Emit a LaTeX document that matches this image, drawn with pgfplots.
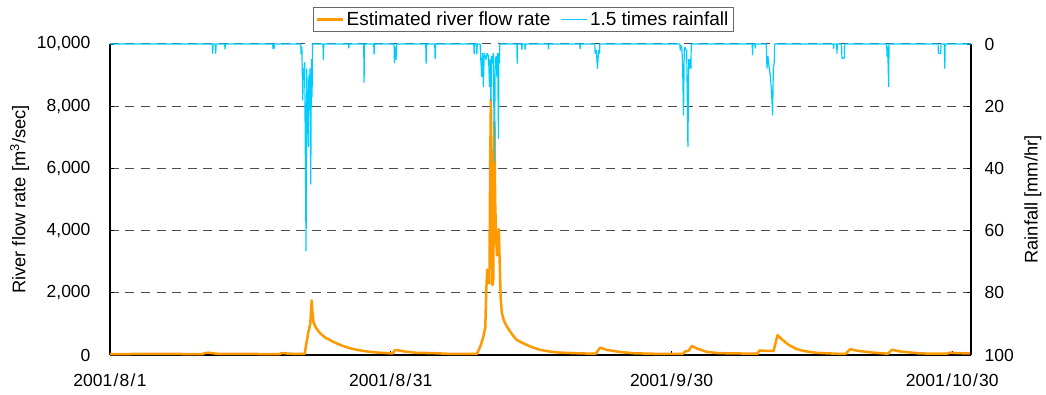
\documentclass[border=0pt]{standalone}
\usepackage{pgfplots}
\pgfplotsset{compat=1.18}
\usepackage{fontspec}
\setmainfont{Liberation Sans}
\definecolor{flow}{RGB}{255,153,0}
\definecolor{rain}{RGB}{0,204,255}
\newcommand\ds{\kern1.3pt/\kern1.3pt}
\newcommand\fs{\fontsize{17.5}{20}\selectfont}
\newcommand\ls{\fontsize{19}{22}\selectfont}
\newcommand\als{\fontsize{18.3}{21}\selectfont}

\pgfplotstableread{
x y
0 30
5 35
9.9 30
10.1 60
10.5 75
11.0 55
11.5 40
13 35
18.1 30
18.4 65
18.8 50
19.4 40
20.5 35
20.8 40
21.0 400
21.2 750
21.4 1000
21.55 1750
21.65 1300
21.75 1050
22.0 880
22.45 700
23.0 560
23.87 420
24.8 300
25.65 215
26.5 160
27.44 115
28.5 80
29.93 55
30.2 50
30.45 160
30.85 150
31.5 110
32.78 70
34.5 60
36 40
39.2 35
39.6 300
39.9 600
40.1 900
40.2 2000
40.3 2750
40.4 2400
40.54 2300
40.62 6000
40.7 8230
40.8 5000
40.87 2250
40.95 2400
41.08 7500
41.15 5000
41.23 4050
41.35 3200
41.45 3500
41.55 4050
41.62 3200
41.75 1800
41.87 1350
42.1 1100
42.41 910
43.0 650
43.47 480
44.18 375
45.0 260
45.96 165
47.0 110
47.92 80
50.0 55
51.9 40
52.38 240
53.0 170
54.52 95
56 55
58.08 40
61.2 40
61.5 120
61.8 130
62.18 290
62.7 210
63.78 100
65 60
69.2 40
69.35 140
70.9 130
71.33 640
71.8 500
72.5 330
73.3 200
74.11 130
75.5 70
77.68 40
78.6 40
79.1 190
79.8 140
81.24 85
83.1 40
83.56 170
84.5 110
86.59 50
89.4 40
89.8 75
90.5 60
92 50
}\flowdata

\pgfplotstableread{
x y
0 0
10.94 0
10.98 3
11.02 0
11.26 0
11.30 3
11.34 0
12.25 0
12.29 1.6
12.33 0
17.38 0
17.42 1.5
17.47 0.3
17.53 1.5
17.57 0
20.38 0
20.42 3.2
20.50 1
20.60 18
20.66 8
20.74 9
20.80 6
20.95 66.5
21.02 8
21.10 20
21.20 33
21.25 10
21.30 17
21.38 8
21.45 45
21.52 5
21.59 17
21.64 0
22.76 0
22.80 5
22.84 0
25.48 0
25.52 1.3
25.56 0
27.11 0
27.15 12.3
27.19 0
28.18 0
28.22 3.3
28.26 0
30.35 0
30.39 6
30.46 1
30.57 5
30.61 0
33.74 0
33.78 6.2
33.82 0
34.70 0
34.74 4.8
34.78 0
38.87 0
38.91 3.2
38.95 0
39.16 0
39.20 3.2
39.24 0
39.55 0
39.60 4
39.73 10.5
39.80 3
39.90 13.7
39.98 3
40.10 4
40.19 5
40.30 3
40.45 4
40.55 13.7
40.62 5
40.70 18.3
40.78 4
40.87 6
40.95 3
41.08 37.8
41.16 5
41.26 4
41.34 10.5
41.42 3
41.51 30.3
41.56 3
41.61 6
41.65 0
43.47 0
43.51 6.2
43.55 0
43.97 0
44.01 1.7
44.05 0
44.32 0
44.36 1.7
44.40 0
46.81 0
46.85 1.5
46.89 0
50.20 0
50.24 1.5
50.28 0
51.80 0
51.84 3
51.96 2
52.09 7.8
52.20 2
52.30 3
52.34 0
60.89 0
60.93 2
60.97 0.5
61.10 1
61.18 6.2
61.28 22.8
61.36 2
61.45 1
61.54 2
61.62 2
61.75 33
61.84 5
61.92 7.8
62.00 5
62.07 7.8
62.11 0
68.62 0
68.66 3.5
68.70 0
68.91 0
68.95 1.3
68.99 0
70.12 0
70.20 7.8
70.30 4
70.44 7.8
70.55 10
70.68 15
70.80 22.8
70.88 8
70.98 5.7
71.02 0
77.28 0
77.32 1.4
77.36 0
77.64 0
77.68 3
77.72 0
78.17 0
78.21 4.6
78.33 4.6
78.46 4.6
78.50 0
82.99 0
83.03 4
83.10 1
83.20 13.7
83.24 0
88.48 0
88.52 3
88.62 3
88.76 3
88.80 0
89.15 0
89.20 7.8
89.24 0
92 0
}\raindata

\begin{document}
\begin{tikzpicture}
\begin{axis}[
  scale only axis, width=861pt, height=311pt,
  xmin=0, xmax=92, ymin=0, ymax=10000,
  axis x line*=bottom, axis y line*=left,
  axis line style={-, line width=1.3pt, black},
  xtick={0,30,60,90},
  xticklabels={2001\ds 8\ds 1, 2001\ds 8\ds 31, 2001\ds 9\ds 30, 2001\ds 10\ds 30},
  ytick={0,2000,...,10000},
  scaled y ticks=false,
  /pgf/number format/.cd, 1000 sep={,}, assume math mode=true, /pgfplots/.cd,
  ymajorgrids,
  grid style={dash pattern=on 9pt off 6.5pt, line width=1pt, black!70},
  tick style={black, line width=0.8pt}, major tick length=4pt,
  tick label style={font=\fs},
  xticklabel style={yshift=-15pt},
  yticklabel style={xshift=-16pt},
  ylabel={River flow rate [m\textsuperscript{3}/sec]},
  ylabel style={at={(axis description cs:-0.105,0.5)}, anchor=center, font=\als},
  legend style={at={(axis description cs:0.48,1.119)}, anchor=north,
    legend columns=2, draw=black!60, font=\ls,
    inner xsep=3pt, inner ysep=2.5pt,
    /tikz/every even column/.append style={column sep=8pt}},
  legend image code/.code={\draw[#1] (0pt,0pt) -- (26pt,0pt);},
]
\addplot[flow, line width=2.5pt, line join=round] table {\flowdata};
\addlegendentry{Estimated river flow rate}
\addplot[rain, line width=1.5pt] coordinates {(-5,-500) (-4,-500)};
\addlegendentry{1.5 times rainfall}
\end{axis}

\begin{axis}[
  scale only axis, width=861pt, height=311pt,
  xmin=0, xmax=92, ymin=0, ymax=100, y dir=reverse,
  axis x line=none, axis y line*=right,
  axis line style={-, line width=1.3pt, black},
  ytick={0,20,...,100},
  /pgf/number format/assume math mode=true,
  tick style={black, line width=0.8pt}, major tick length=4pt,
  tick label style={font=\fs},
  yticklabel style={xshift=10pt},
  clip=false,
  ylabel={Rainfall [mm/hr]},
  ylabel style={at={(axis description cs:1.072,0.5)}, anchor=center, font=\als},
]
\addplot[rain, line width=1.2pt, line join=round] table {\raindata};
\end{axis}
\pgfresetboundingbox
\path (current axis.south west) ++(-110pt,-39pt) coordinate (bl);
\path (current axis.north east) ++(75pt,44pt) coordinate (tr);
\path[use as bounding box] (bl) rectangle (tr);
\end{tikzpicture}
\end{document}
